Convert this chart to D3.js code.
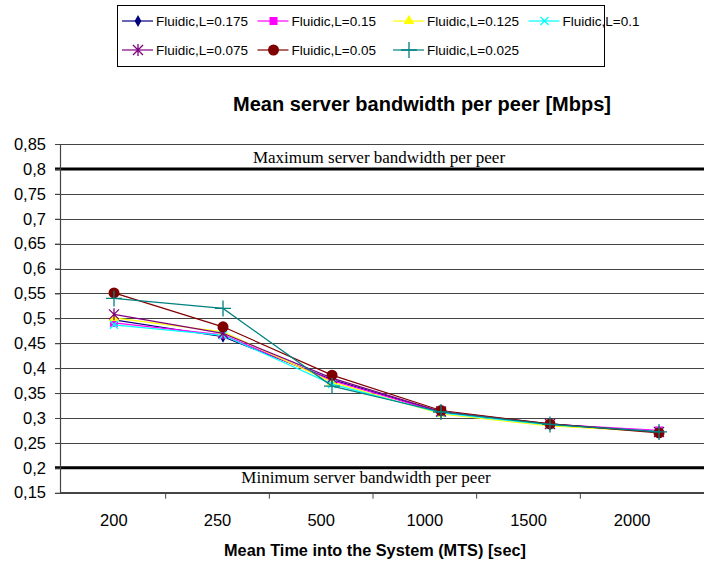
<!DOCTYPE html>
<html>
<head>
<meta charset="utf-8">
<script src="https://cdn.jsdelivr.net/npm/d3@7"></script>
<style>
  body { margin: 0; background: #fff; }
  svg { display: block; }
</style>
</head>
<body>
<svg width="704" height="563"></svg>
<script>
// categories (MTS in sec) and series values
var categories = ["200", "250", "500", "1000", "1500", "2000"];
var seriesNames = ["Fluidic,L=0.175", "Fluidic,L=0.15", "Fluidic,L=0.125", "Fluidic,L=0.1",
                   "Fluidic,L=0.075", "Fluidic,L=0.05", "Fluidic,L=0.025"];
var L0175 = [0.497, 0.463, 0.377, 0.312, 0.287, 0.272];
var L015  = [0.491, 0.467, 0.375, 0.311, 0.287, 0.275];
var L0125 = [0.501, 0.473, 0.372, 0.308, 0.284, 0.272];
var L01   = [0.487, 0.466, 0.368, 0.310, 0.286, 0.273];
var L0075 = [0.508, 0.470, 0.380, 0.313, 0.288, 0.272];
var L005  = [0.551, 0.483, 0.386, 0.315, 0.288, 0.270];
var L0025 = [0.540, 0.520, 0.364, 0.312, 0.287, 0.272];
var yTicks = [0.15, 0.2, 0.25, 0.3, 0.35, 0.4, 0.45, 0.5, 0.55, 0.6, 0.65, 0.7, 0.75, 0.8, 0.85];
var maxBw = 0.8, minBw = 0.2;

var allSeries = [L0175, L015, L0125, L01, L0075, L005, L0025];
var colors = ["#000080", "#ff00ff", "#ffff00", "#00ffff", "#800080", "#800000", "#008080"];
var markers = ["diamond", "square", "triangle", "cross", "star", "circle", "plus"];

var svg = d3.select("svg");
var plotLeft = 60, plotRight = 704, plotTop = 144, plotBottom = 492.7;
var sans = "Liberation Sans, Arial, sans-serif";

var xBand = d3.scaleBand().domain(categories).range([62, 684]);
var xPt = d3.scalePoint().domain(categories).range([114, 659]);
var y = d3.scaleLinear().domain([0.15, 0.85]).range([plotBottom, plotTop]);

// gridlines
svg.append("g").selectAll("line")
    .data(yTicks.filter(function(d) { return d !== maxBw && d !== minBw; }))
    .enter().append("line")
    .attr("x1", plotLeft - 5).attr("x2", plotRight)
    .attr("y1", function(d) { return Math.round(y(d)) + 0.5; })
    .attr("y2", function(d) { return Math.round(y(d)) + 0.5; })
    .attr("stroke", "#444").attr("stroke-width", 1);

// thick reference lines
svg.append("g").selectAll("line")
    .data([maxBw, minBw])
    .enter().append("line")
    .attr("x1", plotLeft - 5).attr("x2", plotRight)
    .attr("y1", function(d) { return y(d); })
    .attr("y2", function(d) { return y(d); })
    .attr("stroke", "#000").attr("stroke-width", 3);

svg.append("text").attr("x", 379).attr("y", y(maxBw) - 6)
    .attr("text-anchor", "middle")
    .attr("font-family", "Liberation Serif, serif").attr("font-size", 17)
    .text("Maximum server bandwidth per peer");
svg.append("text").attr("x", 366).attr("y", y(minBw) + 15)
    .attr("text-anchor", "middle")
    .attr("font-family", "Liberation Serif, serif").attr("font-size", 17)
    .text("Minimum server bandwidth per peer");

// y axis
var yAxis = svg.append("g")
    .attr("transform", "translate(" + plotLeft + ",0)")
    .call(d3.axisLeft(y).tickValues(yTicks).tickSize(5).tickSizeOuter(0)
        .tickFormat(function(d) { return d3.format(".2~f")(d).replace(".", ","); }));
yAxis.select(".domain").attr("stroke", "#444").attr("stroke-width", 1.2);
yAxis.selectAll(".tick line").attr("stroke", "#444");
yAxis.selectAll(".tick text")
    .attr("font-family", sans).attr("font-size", 16.5)
    .attr("fill", "#000").attr("x", -14);

// x axis
svg.append("line").attr("x1", plotLeft).attr("x2", plotRight)
    .attr("y1", plotBottom).attr("y2", plotBottom)
    .attr("stroke", "#444").attr("stroke-width", 1.2);
svg.append("g").selectAll("line")
    .data(categories.slice(1))
    .enter().append("line")
    .attr("x1", function(d) { return xBand(d); })
    .attr("x2", function(d) { return xBand(d); })
    .attr("y1", plotBottom).attr("y2", plotBottom + 6)
    .attr("stroke", "#444");
svg.append("g").selectAll("text")
    .data(categories)
    .enter().append("text")
    .attr("x", function(d) { return xBand(d) + xBand.bandwidth() / 2; })
    .attr("y", 526)
    .attr("text-anchor", "middle")
    .attr("font-family", sans).attr("font-size", 16.5)
    .text(function(d) { return d; });

svg.append("text").attr("x", 375).attr("y", 556)
    .attr("text-anchor", "middle").attr("font-weight", "bold")
    .attr("font-family", sans).attr("font-size", 16.3)
    .text("Mean Time into the System (MTS) [sec]");

// title
svg.append("text").attr("x", 422).attr("y", 111)
    .attr("text-anchor", "middle").attr("font-weight", "bold")
    .attr("font-family", sans).attr("font-size", 20)
    .text("Mean server bandwidth per peer [Mbps]");

// marker drawing
function drawMarker(g, type, color) {
    if (type === "diamond") {
        g.append("path").attr("d", d3.symbol(d3.symbolDiamond, 40)()).attr("fill", color);
    } else if (type === "square") {
        g.append("rect").attr("x", -4).attr("y", -4).attr("width", 8).attr("height", 8).attr("fill", color);
    } else if (type === "triangle") {
        g.append("path").attr("d", d3.symbol(d3.symbolTriangle, 50)()).attr("fill", color);
    } else if (type === "cross") {
        g.append("path").attr("d", "M-4,-4L4,4M-4,4L4,-4").attr("stroke", color).attr("stroke-width", 1.3);
    } else if (type === "star") {
        g.append("path").attr("d", "M-5,-5L5,5M-5,5L5,-5M0,-6V6").attr("stroke", color).attr("stroke-width", 1.3);
    } else if (type === "circle") {
        g.append("circle").attr("r", 5.5).attr("fill", color);
    } else if (type === "plus") {
        g.append("path").attr("d", "M-8,0H8M0,-8V8").attr("stroke", color).attr("stroke-width", 1.3);
    }
}

var line = d3.line()
    .x(function(d, i) { return xPt(categories[i]); })
    .y(function(d) { return y(d); });

allSeries.forEach(function(vals, s) {
    var g = svg.append("g");
    g.append("path").datum(vals)
        .attr("d", line)
        .attr("fill", "none")
        .attr("stroke", colors[s]).attr("stroke-width", 1.2);
    vals.forEach(function(v, i) {
        var m = g.append("g").attr("transform", "translate(" + xPt(categories[i]) + "," + y(v) + ")");
        drawMarker(m, markers[s], colors[s]);
    });
});

// legend
svg.append("rect").attr("x", 117.5).attr("y", 5.5).attr("width", 487).attr("height", 61)
    .attr("fill", "#fff").attr("stroke", "#000").attr("stroke-width", 1);

var legend = svg.append("g").selectAll("g")
    .data(seriesNames)
    .enter().append("g")
    .attr("transform", function(d, i) {
        return "translate(" + (122 + (i % 4) * 135.5) + "," + (i < 4 ? 21 : 50) + ")";
    });
legend.append("line").attr("x1", 0).attr("x2", 31).attr("y1", 0).attr("y2", 0)
    .attr("stroke", function(d, i) { return colors[i]; }).attr("stroke-width", 1.2);
legend.each(function(d, i) {
    var m = d3.select(this).append("g").attr("transform", "translate(16,0)");
    drawMarker(m, markers[i], colors[i]);
});
legend.append("text").attr("x", 34).attr("y", 0).attr("dy", "0.35em")
    .attr("font-family", sans).attr("font-size", 13.5)
    .text(function(d) { return d; });
</script>
</body>
</html>
